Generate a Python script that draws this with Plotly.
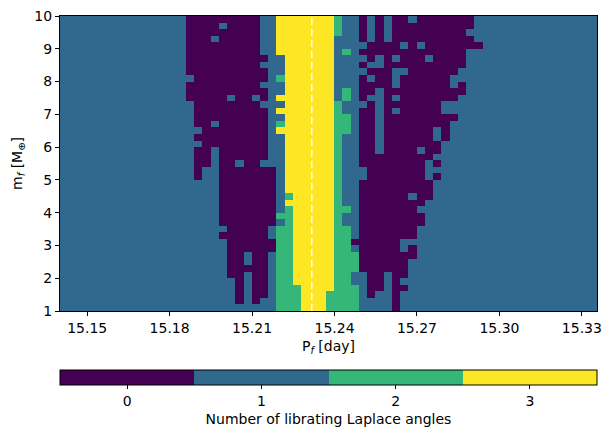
import numpy as np
import plotly.graph_objects as go

# Grid of the scan: outer period P_f (day) and mass m_f (Earth masses)
p_first, p_step, n_p = 15.1394, 0.003, 66
m_top, m_step, n_m = 9.9, 0.2, 45
period = np.round(p_first + p_step * np.arange(n_p), 4)
mass = np.round(m_top - m_step * np.arange(n_m), 2)   # top row first

# Number of librating Laplace angles, read row by row from the top (m=10) down.
# Only columns 15..52 are written; outside them the map is all 1.
left_fill = "1" * 15
right_fill = "1" * 13
rows_mid = [
    "1000000000 1133333332 1101010010 00000011",
    "1000010000 1133333332 1101010000 00000011",
    "1000000000 1133333332 1101010000 00000111",
    "1000100000 1133333331 1101010000 00000011",
    "1000000000 1133333331 1110000101 00000001",
    "1000000000 1133333331 2100000000 00000111",
    "1000000000 0113333331 1110101000 10000111",
    "1000000000 1113333331 1101100000 00000111",
    "1000000000 0113333331 1110001100 00001111",
    "1100000000 0123333331 1101001000 00011111",
    "1000000000 1113333331 1100001000 00010111",
    "1000000000 0113333331 2100100000 00000111",
    "1000001001 0133333331 2101101000 00001111",
    "1100000000 1113333332 1110100000 00111111",
    "1100000000 0133333332 1100101000 00111111",
    "1100000000 0113333332 2100100000 00001111",
    "1100100000 0123333332 2100100000 00011111",
    "1110000000 0133333332 2100100000 01011111",
    "1100000000 0113333332 1100100000 01011111",
    "1110000000 0113333332 1100100000 00111111",
    "1100100000 0113333332 1100100001 00111111",
    "1100100000 0113333332 1100000000 01111111",
    "1100100100 1113333332 1100000000 10111111",
    "1101100000 0013333332 1110000000 11111111",
    "1101100000 0013333332 1110000000 10111111",
    "1111100000 0013333332 1100000000 01111111",
    "1111100000 0013333332 1100000000 01111111",
    "1111100000 0012333332 1100000010 01111111",
    "1111100000 0013333332 1100000000 11111111",
    "1111100000 0012333332 2100000001 11111111",
    "1111100000 0022333332 1100000000 11111111",
    "1111100000 0012333332 1100000000 11111111",
    "1111110000 0122333332 2100000001 11111111",
    "1111100000 0122333332 2100000001 11111111",
    "1111110000 0022333332 2000000111 11111111",
    "1111110000 0022333332 2100000101 11111111",
    "1111110010 0122333332 2200000001 11111111",
    "1111110010 0122333332 2200000011 11111111",
    "1111110000 0122333332 2200000011 11111111",
    "1111110010 0122333332 2110010011 11111111",
    "1111111010 0122333332 2110010111 11111111",
    "1111111010 0122233332 2210010011 11111111",
    "1111111010 0122233322 2210110111 11111111",
    "1111111010 1122233322 2211110111 11111111",
    "1111111111 1122233322 2211110111 11111111",
]
z = [[int(c) for c in left_fill + r.replace(" ", "") + right_fill] for r in rows_mid]

p_ref = 15.2317   # dashed reference period
x_ticks = [15.15, 15.18, 15.21, 15.24, 15.27, 15.30, 15.33]
y_ticks = list(range(1, 11))
cbar_ticks = [0, 1, 2, 3]

viridis4 = ["#440154", "#31688e", "#35b779", "#fde725"]
cscale = []
for i, c in enumerate(viridis4):
    cscale += [[i / 4, c], [(i + 1) / 4, c]]

fig = go.Figure(go.Heatmap(
    x=period, y=mass, z=z,
    zmin=-0.5, zmax=3.5, colorscale=cscale,
    colorbar=dict(
        orientation="h", x=0.5, xanchor="center", y=-0.2, yanchor="top",
        len=1, lenmode="fraction", thickness=15, xpad=0, ypad=0,
        outlinewidth=1, outlinecolor="black",
        tickvals=cbar_ticks, ticks="outside", ticklen=4, tickcolor="black",
        tickfont=dict(size=14),
        title=dict(text="Number of librating Laplace angles", side="bottom",
                   font=dict(size=14)),
    ),
    hoverinfo="skip",
))

fig.add_shape(type="line", xref="x", yref="paper", x0=p_ref, x1=p_ref, y0=0, y1=1,
              line=dict(color="white", width=1.5, dash="7px,4px"))

fig.update_xaxes(range=[15.1401, 15.3355], tickvals=x_ticks,
                 ticktext=[f"{v:.2f}" for v in x_ticks],
                 ticks="outside", ticklen=4, tickcolor="black", tickfont=dict(size=14),
                 showline=True, mirror=True, linecolor="black", linewidth=1,
                 showgrid=False, zeroline=False,
                 title=dict(text="P<sub><i>f</i></sub> [day]", standoff=6,
                            font=dict(size=14)))
fig.update_yaxes(range=[1, 10], tickvals=y_ticks,
                 ticks="outside", ticklen=4, tickcolor="black", tickfont=dict(size=14),
                 showline=True, mirror=True, linecolor="black", linewidth=1,
                 showgrid=False, zeroline=False,
                 title=dict(text="m<sub><i>f</i></sub> [M<sub>⊕</sub>]", standoff=8,
                            font=dict(size=14)))

fig.update_layout(
    width=611, height=438,
    margin=dict(l=60, r=14, t=16, b=127, autoexpand=False),
    paper_bgcolor="white", plot_bgcolor="white",
    font=dict(family="DejaVu Sans", size=14, color="black"),
)

fig.write_html("out.html", config={"displayModeBar": False},
               post_script="document.body.style.margin='0';document.body.style.padding='0';")
